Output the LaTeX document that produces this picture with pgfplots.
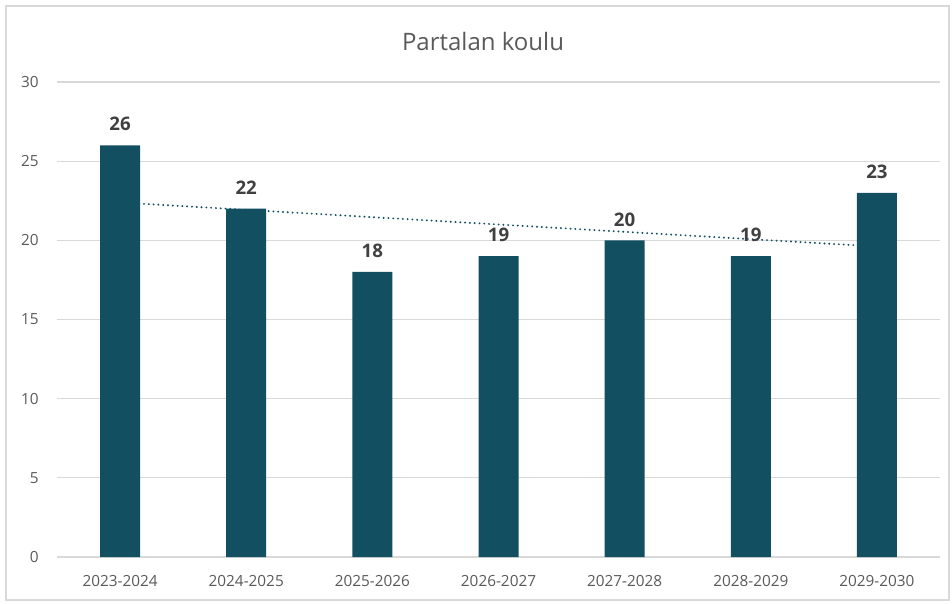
\documentclass[border=0pt]{standalone}
\usepackage{pgfplots}
\pgfplotsset{compat=1.18}
\usepackage{fontspec}
\setmainfont{Open Sans}
\definecolor{barc}{HTML}{124F61}
\definecolor{gridc}{HTML}{D9D9D9}
\definecolor{tickc}{HTML}{595959}
\definecolor{labc}{HTML}{404040}
\begin{document}
\begin{tikzpicture}
\useasboundingbox (-42.75pt,-34.5pt) rectangle (671.25pt,417.75pt);
\draw[gridc, line width=0.9pt] (-38.25pt,-32.25pt) rectangle (669pt,413.25pt);
\begin{axis}[
  at={(0,0)}, anchor=south west,
  scale only axis,
  width=662.25pt, height=356.25pt,
  xmin=-0.5, xmax=6.5, ymin=0, ymax=30,
  ytick={0,5,10,15,20,25,30},
  xtick={0,1,2,3,4,5,6},
  xticklabels={2023-2024,2024-2025,2025-2026,2026-2027,2027-2028,2028-2029,2029-2030},
  axis line style={draw=none},
  ymajorgrids, grid style={gridc, line width=0.9pt},
  major tick length=0pt,
  tick label style={font=\fontsize{11.5pt}{13pt}\selectfont, text=tickc, inner sep=0pt},
  /pgf/number format/assume math mode=true,
  yticklabel style={anchor=east, xshift=-13.5pt},
  xticklabel style={anchor=center, yshift=-18pt},
  clip=false,
]
\addplot[barc, line width=1.6pt, dash pattern=on 0pt off 3.6pt, line cap=round] coordinates {(0,22.39) (6,19.61)};
\addplot[ybar, bar width=30pt, fill=barc, draw=none,
  nodes near coords,
  every node near coord/.append style={anchor=center, yshift=15.75pt, font=\bfseries\fontsize{14pt}{16pt}\selectfont, text=labc}]
  coordinates {(0,26) (1,22) (2,18) (3,19) (4,20) (5,19) (6,23)};
\end{axis}
\node[text=tickc, font=\fontsize{18pt}{20pt}\selectfont] at (319.5pt,386.25pt) {Partalan koulu};
\end{tikzpicture}
\end{document}
